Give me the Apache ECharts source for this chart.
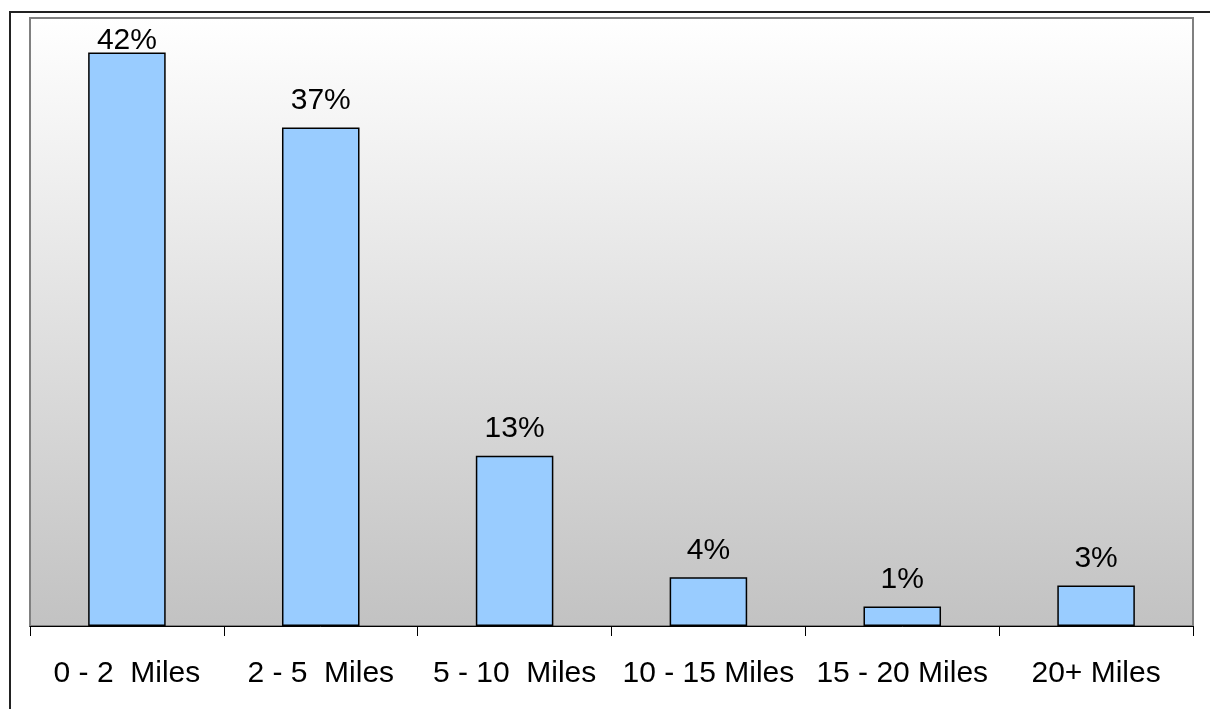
<!DOCTYPE html>
<html>
<head>
<meta charset="utf-8">
<script src="https://cdn.jsdelivr.net/npm/echarts@6/dist/echarts.min.js"></script>
<style>
  html, body { margin: 0; padding: 0; background: #fff; }
  #chart { width: 1210px; height: 709px; }
</style>
</head>
<body>
<div id="chart"></div>
<script>
// distance buckets and share of trips (%)
const categories = ['0 - 2  Miles', '2 - 5  Miles', '5 - 10  Miles', '10 - 15 Miles', '15 - 20 Miles', '20+ Miles']
const shares = [42.45, 36.9, 12.6, 3.6, 1.45, 3.0]
const axisMax = 45

const chart = echarts.init(document.getElementById('chart'))

// tallest label is squeezed down against the plot top, like the original
const barData = shares.map((v, i) => i === 0 ? { value: v, label: { distance: -3 } } : v)

chart.setOption({
  animation: false,
  textStyle: { fontFamily: 'Liberation Sans, Arial, sans-serif' },
  graphic: [{
    type: 'rect',
    shape: { x: 10, y: 12, width: 1400, height: 900 },
    style: { fill: 'none', stroke: '#222', lineWidth: 2 },
    silent: true
  }],
  grid: {
    left: 30,
    right: 17,
    top: 18,
    bottom: 83,
    show: true,
    borderColor: '#808080',
    borderWidth: 2,
    backgroundColor: new echarts.graphic.LinearGradient(0, 0, 0, 1, [
      { offset: 0, color: '#ffffff' },
      { offset: 1, color: '#c2c2c2' }
    ])
  },
  xAxis: {
    type: 'category',
    data: categories,
    axisLine: { lineStyle: { color: '#000', width: 1 } },
    axisTick: { show: true, length: 10, lineStyle: { color: '#000' } },
    axisLabel: { color: '#000', fontSize: 30, margin: 33, interval: 0 }
  },
  yAxis: {
    type: 'value',
    min: 0,
    max: axisMax,
    show: false
  },
  series: [{
    type: 'bar',
    data: barData,
    barWidth: '40%',
    itemStyle: { color: '#99ccff', borderColor: '#000', borderWidth: 1.5 },
    label: {
      show: true,
      position: 'top',
      distance: 12,
      color: '#000',
      fontSize: 30,
      formatter: p => Math.round(p.value) + '%'
    }
  }]
})
</script>
</body>
</html>
